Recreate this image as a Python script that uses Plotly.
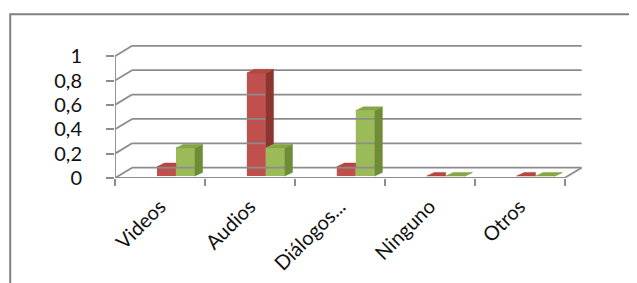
import plotly.graph_objects as go

# ---- data ----
categories = ["Videos", "Audios", "Diálogos...", "Ninguno", "Otros"]
serie_roja = [0.077, 0.846, 0.077, 0.0, 0.0]
serie_verde = [0.231, 0.231, 0.538, 0.0, 0.0]
y_tick_vals = [0, 0.2, 0.4, 0.6, 0.8, 1.0]
y_tick_text = ["0", "0,2", "0,4", "0,6", "0,8", "1"]

# ---- style / pseudo-3D geometry (data units) ----
RED, RED_SIDE, RED_TOP = "#C0504D", "#8E3532", "#B4453F"
GRN, GRN_SIDE, GRN_TOP = "#9BBB59", "#6F8C37", "#86A646"
GRID = "#8c8c8c"
DX, DY = 0.19, 0.085          # floor / wall depth
BDX, BDY = 0.085, 0.03        # bar depth
BASE = 0.016                  # bars stand slightly behind the front edge
W = 0.211
OFF_R, OFF_G = -0.033, 0.178
n = len(categories)
xs = list(range(n))
x_lo, x_hi = -0.5, n - 0.5

fig = go.Figure()

def line(xv, yv, xaxis="x"):
    fig.add_trace(go.Scatter(x=xv, y=yv, mode="lines", xaxis=xaxis,
                             line=dict(color=GRID, width=1.8),
                             hoverinfo="skip", showlegend=False))

# back wall gridlines and left wall diagonals
for v in y_tick_vals:
    line([x_lo + DX, x_hi + DX], [v + DY, v + DY])
    line([x_lo, x_lo + DX], [v, v + DY])
# floor right edge, front edge, front vertical axis
line([x_hi, x_hi + DX], [0, DY])
line([x_lo, x_hi], [0, 0], xaxis="x2")
line([x_lo, x_lo], [0, 1.0])

# front faces
fig.add_trace(go.Bar(x=xs, y=serie_roja, base=BASE, offset=OFF_R, width=W,
                     marker=dict(color=RED, line=dict(width=0)), showlegend=False))
fig.add_trace(go.Bar(x=xs, y=serie_verde, base=BASE, offset=OFF_G, width=W,
                     marker=dict(color=GRN, line=dict(width=0)), showlegend=False))

def poly(px, py, color):
    fig.add_trace(go.Scatter(x=px + [px[0]], y=py + [py[0]], mode="lines",
                             fill="toself", fillcolor=color,
                             line=dict(color=color, width=0.5),
                             hoverinfo="skip", showlegend=False))

for i, (r, g) in enumerate(zip(serie_roja, serie_verde)):
    # red bar
    x0 = i + OFF_R
    x1 = x0 + W
    top = BASE + r
    if r > g:
        bot = BASE + g
        poly([x1, x1 + BDX, x1 + BDX, x1], [bot, bot + BDY, top + BDY, top], RED_SIDE)
        poly([x0, x0 + BDX, x1 + BDX, x1], [top, top + BDY, top + BDY, top], RED_TOP)
    else:
        poly([x0, x0 + BDX, x1, x1], [top, top + BDY, top + BDY, top], RED_TOP)
    # green bar
    x0 = i + OFF_G
    x1 = x0 + W
    top = BASE + g
    poly([x1, x1 + BDX, x1 + BDX, x1], [BASE, BASE + BDY, top + BDY, top], GRN_SIDE)
    poly([x0, x0 + BDX, x1 + BDX, x1], [top, top + BDY, top + BDY, top], GRN_TOP)

FONT = "Lato, 'Noto Sans', sans-serif"
fig.update_layout(
    width=629, height=275,
    margin=dict(l=107, r=49.5, t=35.8, b=105, autoexpand=False),
    paper_bgcolor="white", plot_bgcolor="white",
    showlegend=False, barmode="overlay",
    font=dict(family=FONT, color="#111111"),
    xaxis=dict(range=[x_lo, x_hi + 0.25], tickvals=xs, ticktext=categories,
               tickangle=-45, ticks="", showgrid=False, zeroline=False,
               showline=False, tickfont=dict(size=20), ticklabelstandoff=12,
               automargin=False),
    xaxis2=dict(range=[x_lo, x_hi + 0.25], overlaying="x", anchor="y", side="bottom",
                tickvals=[x_lo + k for k in range(n + 1)], ticks="outside",
                ticklen=7, tickwidth=1.8, tickcolor=GRID, showticklabels=False,
                showgrid=False, zeroline=False, showline=False, automargin=False),
    yaxis=dict(range=[0, 1.1], tickvals=y_tick_vals, ticktext=y_tick_text,
               ticks="outside", ticklen=8, tickwidth=1.8, tickcolor=GRID,
               showgrid=False, zeroline=False, showline=False,
               tickfont=dict(size=20), ticklabelstandoff=20, automargin=False),
    shapes=[dict(type="rect", xref="paper", yref="paper",
                 x0=-0.222, x1=1.3, y0=-1.5, y1=1.222,
                 line=dict(color="#808080", width=2), layer="below")],
)

fig.write_html("out.html")
